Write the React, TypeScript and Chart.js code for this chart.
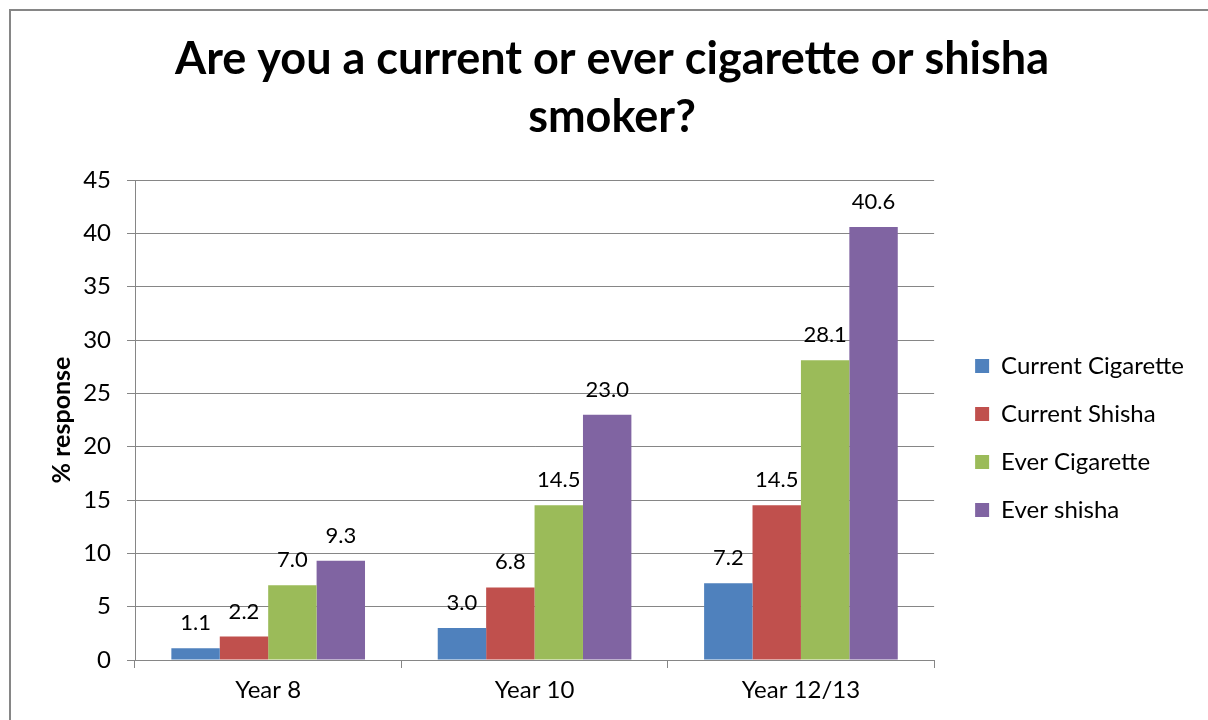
import React, { useEffect, useRef } from "react";
import { Chart, registerables } from "chart.js";

Chart.register(...registerables);

const categories = ["Year 8", "Year 10", "Year 12/13"];
const seriesNames = ["Current Cigarette", "Current Shisha", "Ever Cigarette", "Ever shisha"];
const currentCigarette = [1.1, 3.0, 7.2];
const currentShisha = [2.2, 6.8, 14.5];
const everCigarette = [7.0, 14.5, 28.1];
const everShisha = [9.3, 23.0, 40.6];
const seriesColors = ["#4F81BD", "#C0504D", "#9BBB59", "#8064A2"];
const titleLines = ["Are you a current or ever cigarette or shisha", "smoker?"];
const yAxisTitle = "% response";

const FONT = "Lato";
const GRID = "#868686";

const frame = {
  id: "frame",
  beforeDraw(chart: any) {
    const { ctx } = chart;
    ctx.save();
    ctx.fillStyle = "#ffffff";
    ctx.fillRect(0, 0, chart.width, chart.height);
    ctx.strokeStyle = "#868686";
    ctx.lineWidth = 2;
    ctx.strokeRect(10, 10, chart.width + 50, chart.height + 50);
    ctx.restore();
  },
};

const valueLabels = {
  id: "valueLabels",
  afterDatasetsDraw(chart: any) {
    const { ctx } = chart;
    ctx.save();
    ctx.font = `22px ${FONT}`;
    ctx.fillStyle = "#000000";
    ctx.textAlign = "center";
    ctx.textBaseline = "alphabetic";
    chart.data.datasets.forEach((ds: any, di: number) => {
      const meta = chart.getDatasetMeta(di);
      meta.data.forEach((bar: any, i: number) => {
        const v = ds.data[i];
        ctx.fillText(Number(v).toFixed(1), bar.x, bar.y - 18);
      });
    });
    ctx.restore();
  },
};

export default function App() {
  const ref = useRef<HTMLCanvasElement | null>(null);
  useEffect(() => {
    document.body.style.margin = "0";
    document.body.style.overflow = "hidden";
    const values = [currentCigarette, currentShisha, everCigarette, everShisha];
    const chart = new Chart(ref.current as HTMLCanvasElement, {
      type: "bar",
      data: {
        labels: categories,
        datasets: seriesNames.map((name, i) => ({
          label: name,
          data: values[i],
          backgroundColor: seriesColors[i],
          borderWidth: 0,
          barPercentage: 1,
          categoryPercentage: 0.727,
        })),
      },
      options: {
        animation: false,
        responsive: false,
        maintainAspectRatio: false,
        layout: { padding: { left: 30, right: 14, top: 10, bottom: 16 } },
        plugins: {
          tooltip: { enabled: false },
          title: {
            display: true,
            text: titleLines,
            color: "#000000",
            font: { family: FONT, size: 45, weight: "bold", lineHeight: 58 / 45 },
            padding: { top: 20, bottom: 34 },
          },
          legend: {
            display: true,
            position: "right",
            fullSize: false,
            title: { display: true, text: " ", font: { size: 10 }, padding: 12 },
            labels: {
              color: "#000000",
              font: { family: FONT, size: 24 },
              boxWidth: 14,
              boxHeight: 14,
              padding: 24,
            },
          },
        },
        scales: {
          x: {
            type: "category",
            grid: {
              display: true,
              drawOnChartArea: false,
              offset: true,
              color: GRID,
              tickLength: 8,
            },
            border: { display: true, color: GRID, width: 1 },
            ticks: { color: "#000000", font: { family: FONT, size: 24 }, padding: 8 },
            afterFit(scale: any) {
              scale.height = 44;
            },
          },
          y: {
            type: "linear",
            min: 0,
            max: 45,
            ticks: { stepSize: 5, color: "#000000", font: { family: FONT, size: 24 }, padding: 16 },
            grid: { color: GRID, tickLength: 8 },
            border: { display: true, color: GRID, width: 1 },
            title: {
              display: true,
              text: yAxisTitle,
              color: "#000000",
              font: { family: FONT, size: 25, weight: "bold" },
              padding: { top: 17, bottom: 0 },
            },
            afterFit(scale: any) {
              scale.width = 105;
            },
          },
          y2: {
            type: "linear",
            position: "right",
            display: false,
            afterFit(scale: any) {
              scale.width = 17;
            },
          },
        },
      },
      plugins: [frame, valueLabels],
    } as any);
    return () => chart.destroy();
  }, []);
  return (
    <div style={{ position: "relative", width: 1208, height: 720 }}>
      <canvas ref={ref} width={1208} height={720} style={{ display: "block", width: 1208, height: 720 }} />
    </div>
  );
}
